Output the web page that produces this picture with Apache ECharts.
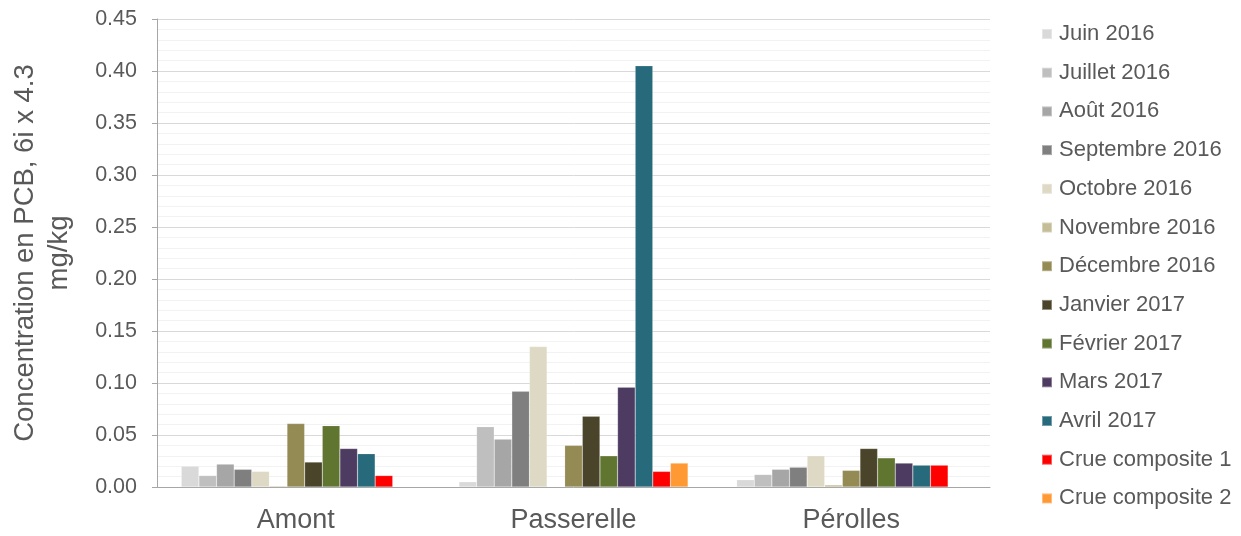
<!DOCTYPE html>
<html><head><meta charset="utf-8">
<script src="https://cdn.jsdelivr.net/npm/echarts@6/dist/echarts.min.js"></script>
<style>html,body{margin:0;padding:0;background:#fff}#c{width:1241px;height:536px}</style>
</head><body><div id="c"></div>
<script>
const categories = ['Amont', 'Passerelle', 'Pérolles'];
const seriesNames = ['Juin 2016','Juillet 2016','Août 2016','Septembre 2016','Octobre 2016','Novembre 2016','Décembre 2016','Janvier 2017','Février 2017','Mars 2017','Avril 2017','Crue composite 1','Crue composite 2'];
const juin2016 = [0.020, 0.005, 0.007];
const juillet2016 = [0.011, 0.058, 0.012];
const aout2016 = [0.022, 0.046, 0.017];
const septembre2016 = [0.017, 0.092, 0.019];
const octobre2016 = [0.015, 0.135, 0.030];
const novembre2016 = [0.001, null, 0.002];
const decembre2016 = [0.061, 0.040, 0.016];
const janvier2017 = [0.024, 0.068, 0.037];
const fevrier2017 = [0.059, 0.030, 0.028];
const mars2017 = [0.037, 0.096, 0.023];
const avril2017 = [0.032, 0.405, 0.021];
const crue1 = [0.011, 0.015, 0.021];
const crue2 = [null, 0.023, null];
const yTicks = ['0.00','0.05','0.10','0.15','0.20','0.25','0.30','0.35','0.40','0.45'];
const colors = ['#d9d9d9','#bfbfbf','#a6a6a6','#7f7f7f','#ddd9c4','#c4bd97','#948a54','#4a452a','#5f7530','#4e3b62','#276a7b','#ff0000','#ff9933'];
const allData = [juin2016, juillet2016, aout2016, septembre2016, octobre2016, novembre2016, decembre2016, janvier2017, fevrier2017, mars2017, avril2017, crue1, crue2];

const font = 'Liberation Sans, Arial, sans-serif';
const chart = echarts.init(document.getElementById('c'));
chart.setOption({
  animation: false,
  color: colors,
  textStyle: { fontFamily: font, color: '#595959' },
  grid: { left: 157, right: 251, top: 19, bottom: 49, outerBoundsMode: 'none', containLabel: false },
  legend: {
    orient: 'vertical', left: 1041, top: 22, padding: 0,
    itemWidth: 10, itemHeight: 10, itemGap: 14.7, icon: 'rect',
    textStyle: { fontFamily: font, fontSize: 22, color: '#595959', lineHeight: 24, padding: [0, 0, 0, 2] },
    data: seriesNames
  },
  xAxis: {
    type: 'category', data: categories,
    axisLine: { lineStyle: { color: '#a6a6a6', width: 1 } },
    axisTick: { show: false },
    axisLabel: { fontSize: 27, color: '#595959', margin: 20, fontFamily: font }
  },
  yAxis: {
    type: 'value', min: 0, max: 0.45, interval: 0.05,
    name: 'Concentration en PCB, 6i x 4.3\nmg/kg',
    nameLocation: 'middle', nameGap: 81, nameRotate: 90,
    nameTextStyle: { fontSize: 27.5, color: '#595959', lineHeight: 34, fontFamily: font },
    axisLine: { show: true, lineStyle: { color: '#a6a6a6', width: 1 } },
    axisTick: { show: true, length: 5, lineStyle: { color: '#a6a6a6' } },
    axisLabel: { fontSize: 21.5, color: '#595959', margin: 20, fontFamily: font,
      formatter: (v) => yTicks[Math.round(v / 0.05)] },
    splitLine: { show: true, lineStyle: { color: '#d9d9d9', width: 1 } },
    minorTick: { show: false, splitNumber: 5 },
    minorSplitLine: { show: true, lineStyle: { color: '#f2f2f2', width: 1 } }
  },
  series: seriesNames.map((n, i) => ({
    name: n, type: 'bar', data: allData[i],
    barGap: '0%', barCategoryGap: '17.5%',
    itemStyle: { color: colors[i], borderColor: 'rgba(255,255,255,0.35)', borderWidth: 0.5 }
  }))
});
</script>
</body></html>
